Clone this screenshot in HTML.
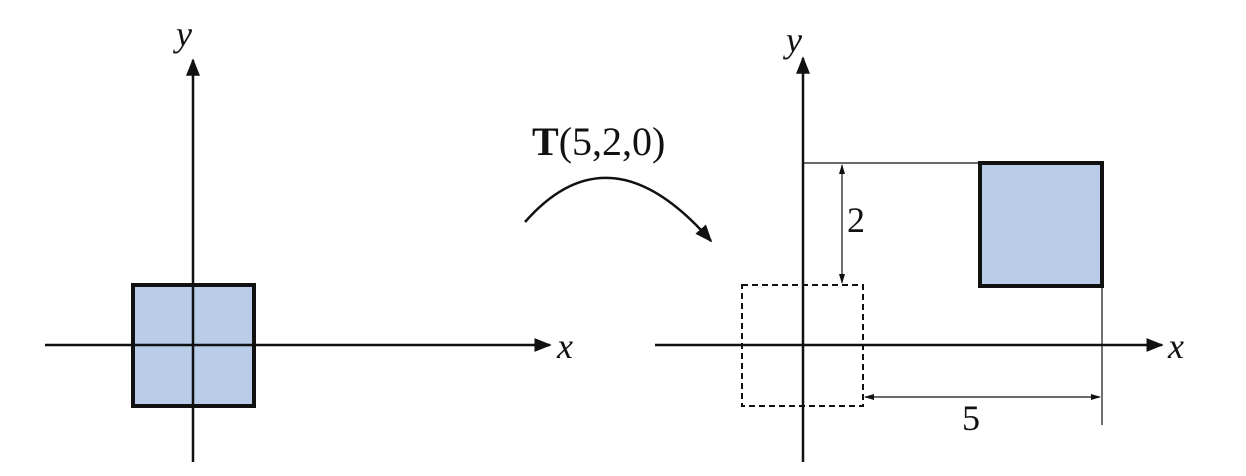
<!DOCTYPE html>
<html><head><style>body{margin:0;background:#fff}svg{display:block}</style></head><body>
<svg width="1246" height="476" viewBox="0 0 1246 476" xmlns="http://www.w3.org/2000/svg">
<defs>
<marker id="a" viewBox="0 0 10 10" refX="9" refY="5" markerWidth="7" markerHeight="7" orient="auto-start-reverse"><path d="M0,1 L10,5 L0,9 z" fill="#111"/></marker>
<marker id="s" viewBox="0 0 10 10" refX="9" refY="5" markerWidth="10" markerHeight="10" orient="auto-start-reverse" markerUnits="userSpaceOnUse"><path d="M0,2 L10,5 L0,8 z" fill="#111"/></marker>
</defs>
<g stroke="#111" fill="none">
<rect x="133" y="285" width="121" height="121" fill="#b9cde9" stroke-width="4"/>
<line x1="193" y1="462" x2="193" y2="60" stroke-width="2.5" marker-end="url(#a)"/>
<line x1="45" y1="345" x2="550" y2="345" stroke-width="2.5" marker-end="url(#a)"/>
<rect x="742" y="285" width="121" height="121" stroke-width="2" stroke-dasharray="6,4"/>
<rect x="980" y="163" width="122" height="123" fill="#b9cde9" stroke-width="4"/>
<line x1="803" y1="462" x2="803" y2="58" stroke-width="2.5" marker-end="url(#a)"/>
<line x1="655" y1="345" x2="1162" y2="345" stroke-width="2.5" marker-end="url(#a)"/>
<line x1="803" y1="163" x2="980" y2="163" stroke-width="1.2"/>
<line x1="842" y1="165" x2="842" y2="283" stroke-width="1.2" marker-start="url(#s)" marker-end="url(#s)"/>
<line x1="1102" y1="286" x2="1102" y2="425" stroke-width="1.2"/>
<line x1="865" y1="397" x2="1100" y2="397" stroke-width="1.2" marker-start="url(#s)" marker-end="url(#s)"/>
<path d="M525,222 Q610,125 711,241" stroke-width="2.5" marker-end="url(#a)"/>
</g>
<g font-family="Liberation Serif, serif" fill="#111" font-size="36">
<text x="176" y="46" font-style="italic">y</text>
<text x="557" y="358" font-style="italic">x</text>
<text x="786" y="52" font-style="italic">y</text>
<text x="1168" y="358" font-style="italic">x</text>
<text x="847" y="232">2</text>
<text x="962" y="430">5</text>
<text x="532" y="155" font-size="40"><tspan font-weight="bold">T</tspan>(5,2,0)</text>
</g>
</svg>
</body></html>
